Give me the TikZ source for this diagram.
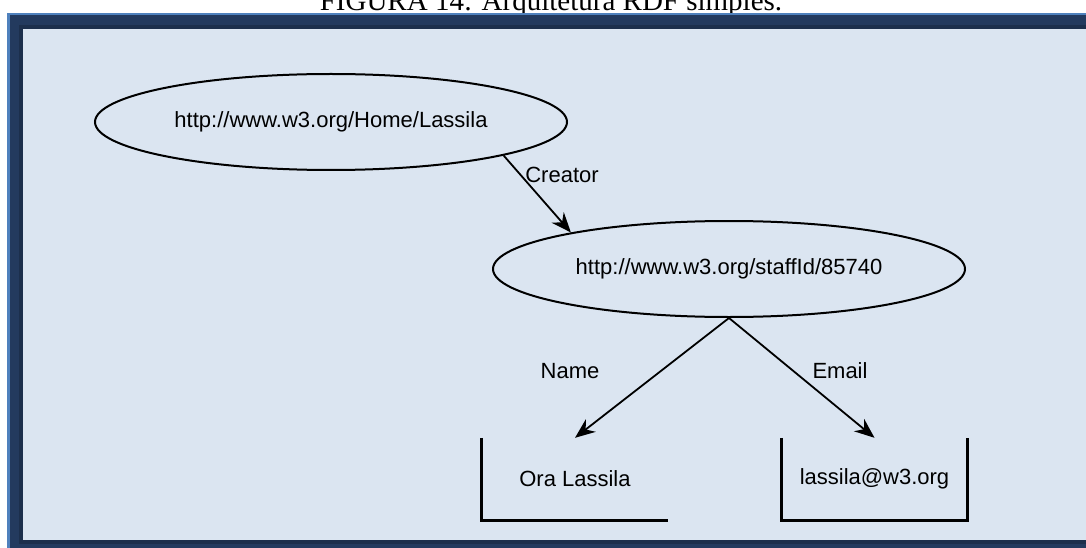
\documentclass[tikz,border=0pt]{standalone}
\usepackage{fontspec}
\setmainfont{Liberation Sans}
\newfontfamily\capfont{Liberation Serif}
\usetikzlibrary{arrows.meta}
\usetikzlibrary{shapes.geometric}
\definecolor{stripe}{HTML}{4F81BD}
\definecolor{navy}{HTML}{233A5E}
\definecolor{navyin}{HTML}{1C2F4C}
\definecolor{panel}{HTML}{DBE5F1}
\tikzset{
  res/.style={ellipse, draw, line width=2pt, minimum width=472pt, minimum height=96pt, inner sep=0pt, font=\fontsize{22}{26}\selectfont},
  lit/.style={rectangle, inner sep=0pt, minimum height=82pt, font=\fontsize{22}{26}\selectfont},
  prop/.style={font=\fontsize{22}{26}\selectfont},
  rel/.style={line width=1.8pt, -{Stealth[length=20pt,width=16pt]}}
}
\begin{document}
\begin{tikzpicture}[x=1pt,y=-1pt]
\useasboundingbox (0,0) rectangle (1086,548);
%frame
\fill[white] (0,0) rectangle (1086,548);
\node[font=\capfont\fontsize{29}{33}\selectfont, anchor=base] (caption) at (551,11) {FIGURA 14: Arquitetura RDF simples.};
\fill[stripe] (7,13) rectangle (1090,552);
\fill[navy] (10,15) rectangle (1090,552);
\fill[navyin] (19,25) rectangle (1090,544);
\fill[panel] (23,29) rectangle (1090,540);
%resources
\node[res] (home) at (331,122) {http://www.w3.org/Home/Lassila};
\node[res] (staff) at (729,269) {http://www.w3.org/staffId/85740};
%literals
\node[lit, minimum width=186pt] (ora) at (575,479) {Ora Lassila};
\node[lit, minimum width=185pt] (mail) at (874.5,479) {lassila@w3.org};
\draw[line width=3pt] (ora.north west) -- (ora.south west) -- (ora.south east);
\draw[line width=3pt] (mail.north west) -- (mail.south west) -- (mail.south east) -- (mail.north east);
%properties
\draw[rel] (home.-11) -- (staff.167);
\draw[rel] (staff.south) -- (ora.north);
\draw[rel] (staff.south) -- (mail.north);
\node[prop] (creator) at (562,175) {Creator};
\node[prop] (name) at (570,371) {Name};
\node[prop] (email) at (840,371) {Email};
\end{tikzpicture}
\end{document}
